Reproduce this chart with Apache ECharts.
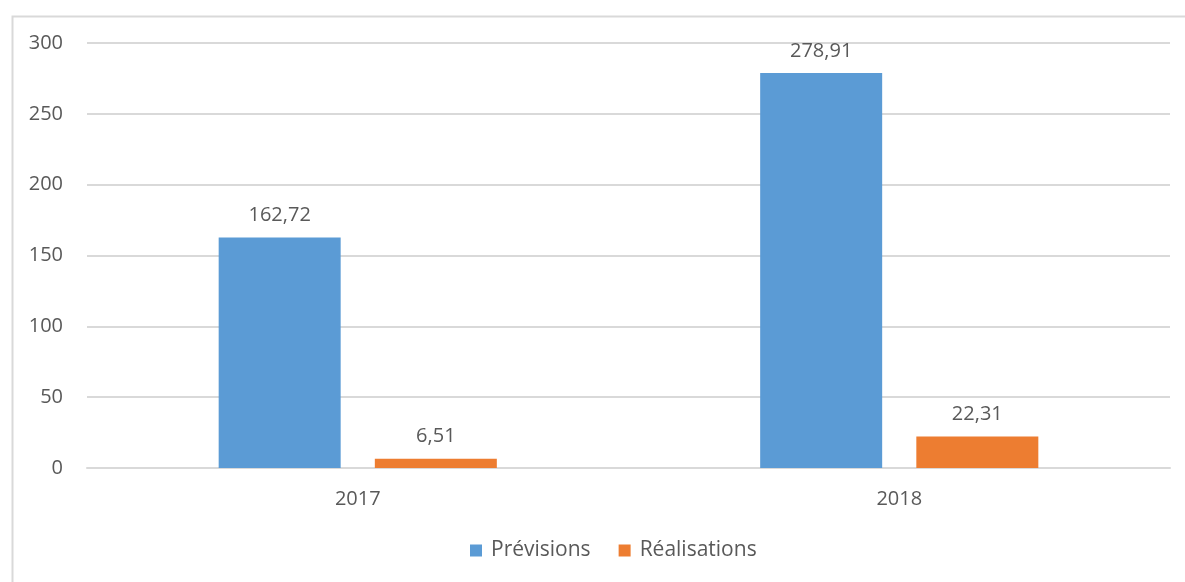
<!DOCTYPE html>
<html>
<head>
<meta charset="utf-8">
<script src="https://cdn.jsdelivr.net/npm/echarts@6/dist/echarts.min.js"></script>
<style>html,body{margin:0;padding:0;background:#fff}#c{width:1185px;height:582px}</style>
</head>
<body>
<div id="c"></div>
<script>
const categories = ['2017', '2018'];
const previsions = [162.72, 278.91];
const realisations = [6.51, 22.31];
const yTicks = [0, 50, 100, 150, 200, 250, 300];

const font = 'Open Sans';
const txt = '#595959';
const fmt = p => String(p.value).replace('.', ',');

const chart = echarts.init(document.getElementById('c'), null, {renderer: 'canvas'});
chart.setOption({
  animation: false,
  backgroundColor: '#fff',
  graphic: [{
    type: 'rect', left: 10, top: 14,
    shape: {width: 1200, height: 600},
    style: {fill: 'none', stroke: '#d9d9d9', lineWidth: 2}
  }],
  grid: {left: 87, right: 15, top: 43, bottom: 114, containLabel: false},
  legend: {
    bottom: 16, left: 465,
    itemWidth: 12, itemHeight: 12, itemGap: 28,
    icon: 'rect',
    textStyle: {fontFamily: font, fontSize: 21, color: txt, padding: [0, 0, 0, 4]},
    data: ['Prévisions', 'Réalisations']
  },
  xAxis: {
    type: 'category', data: categories,
    axisLine: {lineStyle: {color: '#d9d9d9', width: 2}},
    axisTick: {show: false},
    axisLabel: {fontFamily: font, fontSize: 20, color: txt, margin: 21}
  },
  yAxis: {
    type: 'value', min: yTicks[0], max: yTicks[yTicks.length - 1], interval: 50,
    axisLine: {show: false}, axisTick: {show: false},
    splitLine: {lineStyle: {color: '#d9d9d9', width: 2}},
    axisLabel: {fontFamily: font, fontSize: 20, color: txt, margin: 24}
  },
  series: [
    {
      name: 'Prévisions', type: 'bar', data: previsions,
      barWidth: 122, barGap: '28%',
      itemStyle: {color: '#5B9BD5'},
      label: {show: true, position: 'top', distance: 12, formatter: fmt,
        fontFamily: font, fontSize: 20, color: txt}
    },
    {
      name: 'Réalisations', type: 'bar', data: realisations,
      barWidth: 122,
      itemStyle: {color: '#ED7D31'},
      label: {show: true, position: 'top', distance: 12, formatter: fmt,
        fontFamily: font, fontSize: 20, color: txt}
    }
  ]
});
</script>
</body>
</html>
